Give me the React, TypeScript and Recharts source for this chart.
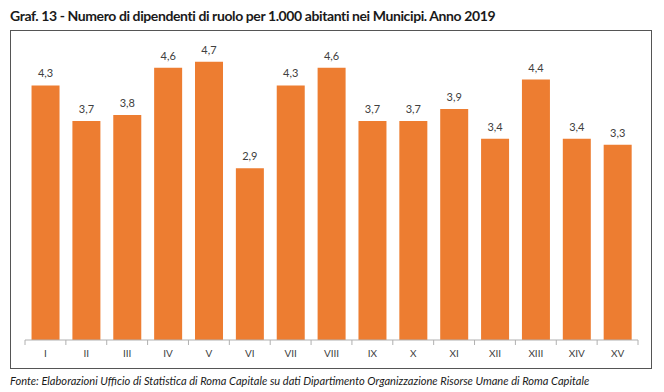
import React from "react";
import { BarChart, Bar, XAxis, YAxis, LabelList } from "recharts";

const municipi = ["I", "II", "III", "IV", "V", "VI", "VII", "VIII", "IX", "X", "XI", "XII", "XIII", "XIV", "XV"];
const dipendenti = [4.3, 3.7, 3.8, 4.6, 4.7, 2.9, 4.3, 4.6, 3.7, 3.7, 3.9, 3.4, 4.4, 3.4, 3.3];
const titleText = "Graf. 13 - Numero di dipendenti di ruolo per 1.000 abitanti nei Municipi. Anno 2019";
const sourceText = "Fonte: Elaborazioni Ufficio di Statistica di Roma Capitale su dati Dipartimento Organizzazione Risorse Umane di Roma Capitale";

const data = municipi.map((m, i) => ({ name: m, value: dipendenti[i] }));

const FONT = "Lato, 'Open Sans', sans-serif";
const W = 664;
const H = 392;
const M = { top: 44, right: 26, bottom: 22, left: 25 };
const STEP = (W - M.left - M.right) / municipi.length;

const Tick = (props: any) => {
  const { x, y, payload, index } = props;
  const half = payload && payload.offset ? payload.offset : STEP / 2;
  const ty = y - 8;
  return (
    <g>
      <line x1={x - half} x2={x - half} y1={ty} y2={ty + 5} stroke="#b0b0b0" strokeWidth={1} />
      {index === municipi.length - 1 && (
        <line x1={x + half} x2={x + half} y1={ty} y2={ty + 5} stroke="#b0b0b0" strokeWidth={1} />
      )}
      <text x={x} y={y + 9} textAnchor="middle" fontSize={10} fill="#404040" fontFamily={FONT}>
        {payload.value}
      </text>
    </g>
  );
};

export default function App() {
  return (
    <div style={{ position: "absolute", left: 0, top: 0, width: W, height: H, background: "#fff", fontFamily: FONT }}>
      <div style={{ position: "absolute", left: 10, top: 7, fontSize: 14, fontWeight: 700, letterSpacing: -0.4, color: "#1a1a1a", whiteSpace: "nowrap" }}>
        {titleText}
      </div>
      <div style={{ position: "absolute", left: 10, top: 30, width: 642, height: 339, border: "1px solid #555", boxSizing: "border-box" }} />
      <div style={{ position: "absolute", left: 0, top: 0 }}>
        <BarChart width={W} height={H} data={data} margin={M} barCategoryGap="16%">
          <XAxis
            dataKey="name"
            axisLine={{ stroke: "#b0b0b0" }}
            tickLine={false}
            tick={<Tick />}
            interval={0}
            height={30}
          />
          <YAxis hide domain={[0, 5]} />
          <Bar dataKey="value" fill="#ED7D31" isAnimationActive={false}>
            <LabelList
              dataKey="value"
              position="top"
              offset={8}
              formatter={(v: any) => Number(v).toFixed(1).replace(".", ",")}
              style={{ fontSize: 11, fill: "#404040", fontFamily: FONT }}
            />
          </Bar>
        </BarChart>
      </div>
      <div style={{ position: "absolute", left: 10, top: 374, fontSize: 11.1, fontStyle: "italic", color: "#1a1a1a", whiteSpace: "nowrap" }}>
        {sourceText}
      </div>
    </div>
  );
}
